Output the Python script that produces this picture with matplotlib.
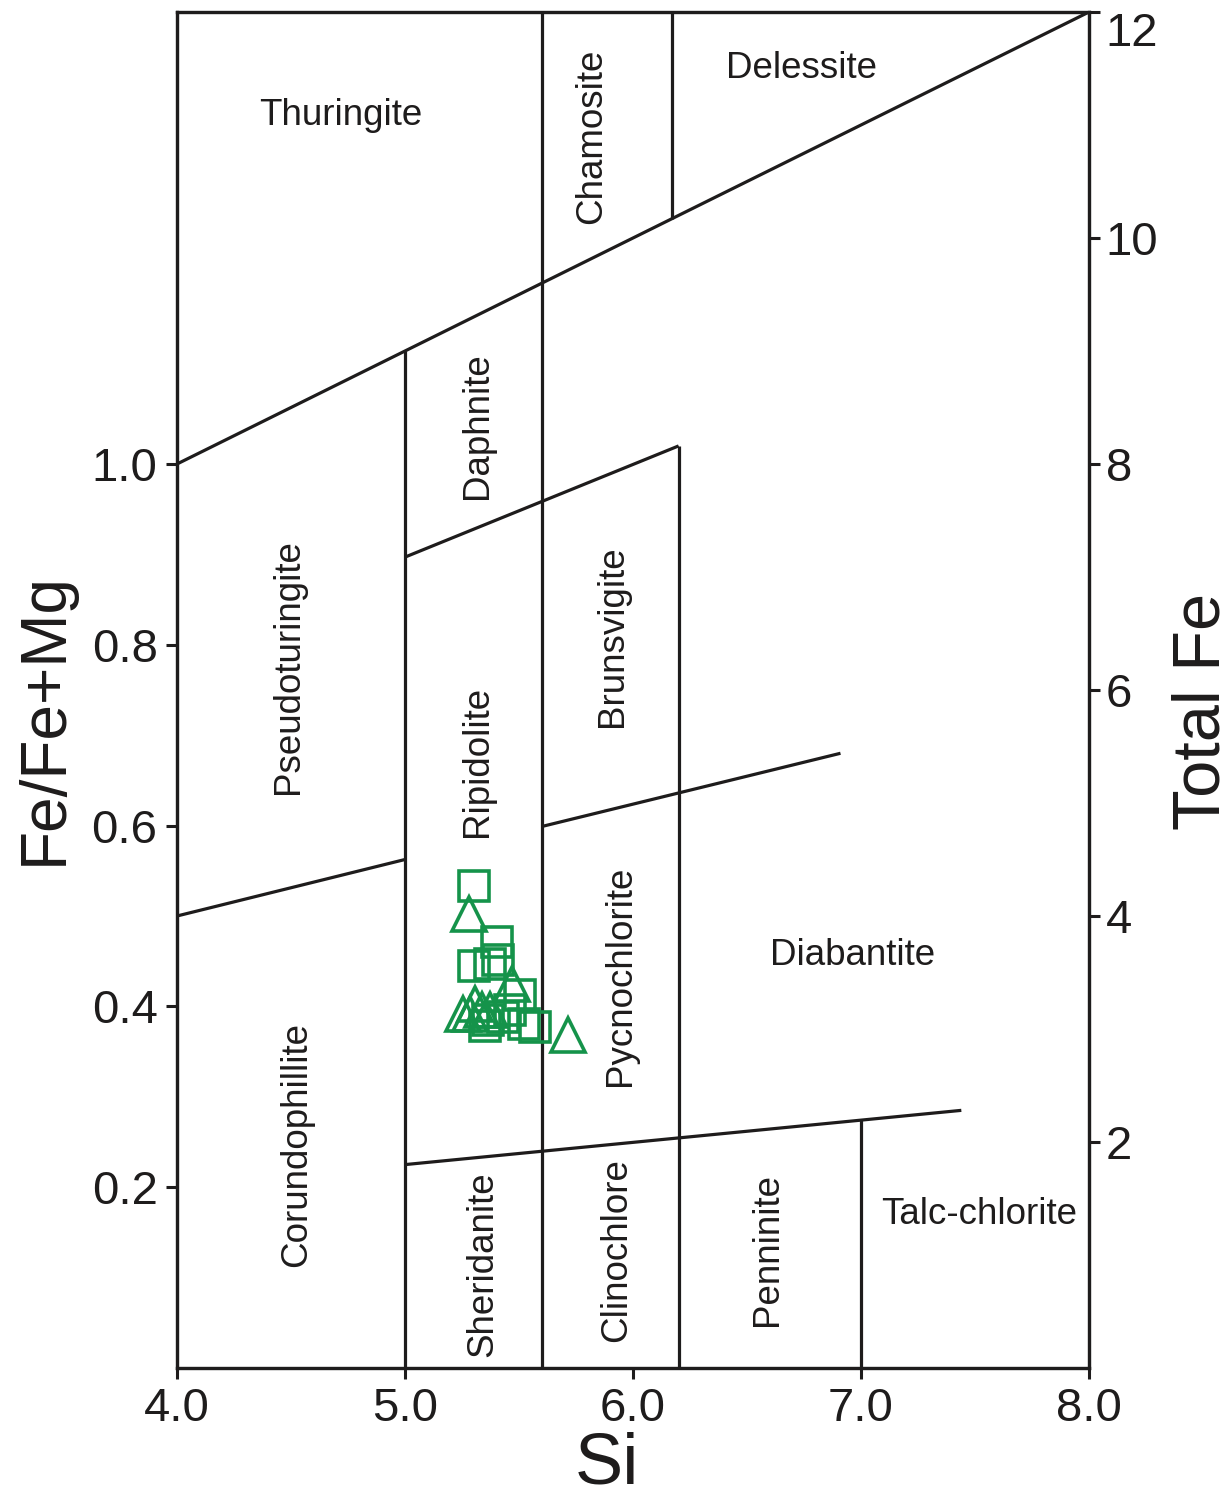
import matplotlib
matplotlib.use("Agg")
import matplotlib.pyplot as plt

plt.rcParams['font.family'] = ['Liberation Sans', 'DejaVu Sans']

INK = '#1e1c1c'
GREEN = '#15934a'

# Chlorite analyses: Si (apfu) vs Fe/(Fe+Mg)
sq_si = [5.303, 5.404, 5.303, 5.373, 5.408, 5.504, 5.364, 5.430, 5.522, 5.570, 5.351, 5.461]
sq_fe = [0.533, 0.471, 0.445, 0.447, 0.451, 0.413, 0.385, 0.388, 0.381, 0.377, 0.378, 0.396]
tri_si = [5.281, 5.469, 5.307, 5.338, 5.285, 5.373, 5.254, 5.715]
tri_fe = [0.502, 0.425, 0.403, 0.396, 0.392, 0.396, 0.392, 0.368]

# Field boundaries of the Hey (1954) chlorite classification, (Si, Fe/(Fe+Mg))
boundaries = [
    [(4.0, 1.0), (8.0, 1.5)],
    [(4.0, 0.5), (5.0, 0.5625)],
    [(5.0, 0.897), (6.2, 1.020)],
    [(5.6, 0.599), (6.91, 0.680)],
    [(5.0, 0.225), (7.44, 0.285)],
    [(5.0, 0.0), (5.0, 1.125)],
    [(5.6, 0.0), (5.6, 1.5)],
    [(6.2, 0.0), (6.2, 1.020)],
    [(6.17, 1.271), (6.17, 1.5)],
    [(7.0, 0.0), (7.0, 0.274)],
]

# Field names: (text, Si, Fe/(Fe+Mg), rotation)
fields = [
    ("Thuringite", 4.72, 1.385, 0),
    ("Chamosite", 5.82, 1.363, 90),
    ("Delessite", 6.74, 1.437, 0),
    ("Daphnite", 5.316, 1.043, 90),
    ("Pseudoturingite", 4.49, 0.776, 90),
    ("Ripidolite", 5.32, 0.671, 90),
    ("Brunsvigite", 5.908, 0.809, 90),
    ("Pycnochlorite", 5.943, 0.434, 90),
    ("Diabantite", 6.965, 0.456, 0),
    ("Corundophillite", 4.526, 0.247, 90),
    ("Sheridanite", 5.342, 0.115, 90),
    ("Clinochlore", 5.93, 0.131, 90),
    ("Penninite", 6.59, 0.131, 90),
    ("Talc-chlorite", 7.52, 0.170, 0),
]

x_ticks = [4.0, 5.0, 6.0, 7.0, 8.0]
y_ticks = [0.2, 0.4, 0.6, 0.8, 1.0]
fe_ticks = [2, 4, 6, 8, 10, 12]

fig = plt.figure(figsize=(12.31, 15.07), dpi=100)
ax = fig.add_axes([177 / 1231, 1 - 1368 / 1507, (1089 - 177) / 1231, (1368 - 12) / 1507])
ax.set_xlim(4.0, 8.0)
ax.set_ylim(0.0, 1.5)

for seg in boundaries:
    (x0, y0), (x1, y1) = seg
    ax.plot([x0, x1], [y0, y1], color=INK, lw=2.3, solid_capstyle='butt', zorder=2)

for text, x, y, rot in fields:
    ax.text(x, y, text, rotation=rot, ha='center', va='center',
            fontsize=26.5, color=INK, zorder=3)

ax.plot(sq_si, sq_fe, linestyle='none', marker='s', markersize=21.5,
        markerfacecolor='none', markeredgecolor=GREEN, markeredgewidth=2.6, zorder=4)
ax.plot(tri_si, tri_fe, linestyle='none', marker='^', markersize=24,
        markerfacecolor='none', markeredgecolor=GREEN, markeredgewidth=2.6, zorder=4)

ax.set_xticks(x_ticks)
ax.set_xticklabels([f"{v:.1f}" for v in x_ticks])
ax.set_yticks(y_ticks)
ax.set_yticklabels([f"{v:.1f}" for v in y_ticks])
ax.tick_params(axis='both', direction='out', length=8, width=2.2,
               labelsize=34, colors=INK, pad=6)
for s in ax.spines.values():
    s.set_linewidth(2.3)
    s.set_color(INK)

ax.set_xlabel("Si", fontsize=52, color=INK)
ax.xaxis.set_label_coords(0.4715, -0.047)
ax.set_ylabel("Fe/Fe+Mg", fontsize=46, color=INK)
ax.yaxis.set_label_coords(-0.112, 0.479)

ax2 = ax.twinx()
ax2.set_ylim(0, 12)
ax2.set_yticks(fe_ticks)
ax2.set_yticklabels([str(v) for v in fe_ticks])
ax2.tick_params(axis='y', direction='out', length=8, width=2.2,
                labelsize=34, colors=INK, pad=4)
# keep the top label inside the figure
ax2.get_yticklabels()[-1].set_verticalalignment('top')
for s in ax2.spines.values():
    s.set_linewidth(2.3)
    s.set_color(INK)
ax2.set_ylabel("Total Fe", fontsize=48, color=INK)
ax2.yaxis.set_label_coords(1.091, 0.4845)

fig.savefig("out.png", dpi=100, facecolor='white')
